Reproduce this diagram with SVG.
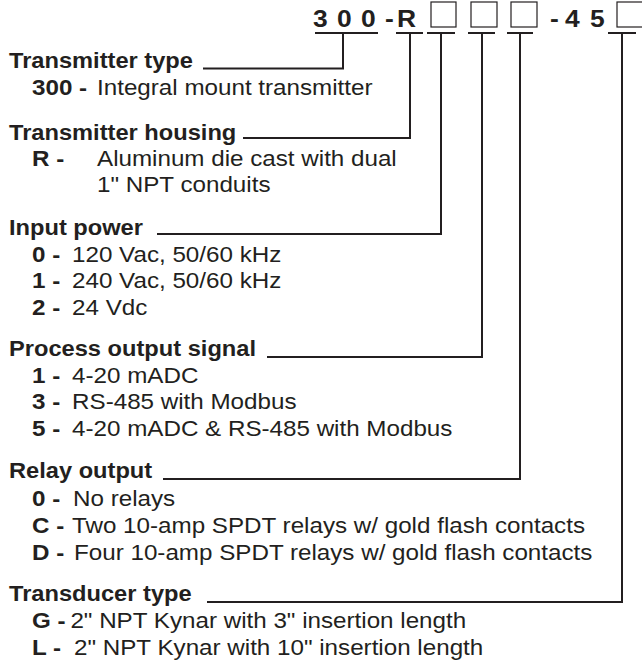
<svg xmlns="http://www.w3.org/2000/svg" width="642" height="661" viewBox="0 0 642 661">
<style>
text { font-family: "Liberation Sans", Arial, sans-serif; fill: #231f20; }
.h { font-size: 21.5px; font-weight: bold; }
.t { font-size: 22px; }
.b { font-weight: bold; }
.code { font-size: 24px; font-weight: bold; }
.ln { fill: none; stroke: #231f20; stroke-width: 2; }
.box { fill: none; stroke: #231f20; stroke-width: 1.2; }
</style>
<rect width="642" height="661" fill="#ffffff"/>
<g id="code">
  <g transform="scale(1.1 1)">
    <text class="code" x="284.5 306.4 328.2 350 360.9 500 513.6 536.4" y="27">300-R-45</text>
  </g>
  <rect class="box" x="431" y="2" width="25" height="25"/>
  <rect class="box" x="471" y="2" width="26" height="25"/>
  <rect class="box" x="511" y="2" width="26" height="25"/>
  <rect class="box" x="617" y="2" width="26" height="25"/>
</g>
<g id="connectors">
  <path class="ln" d="M315,33 H378 M343,33 V68.5 H203"/>
  <path class="ln" d="M396,33 H423 M410,33 V138 H243"/>
  <path class="ln" d="M427,33 H455 M441,33 V234 H157"/>
  <path class="ln" d="M468,33 H495 M482,33 V357 H267"/>
  <path class="ln" d="M507,33 H533 M520,33 V479 H163"/>
  <path class="ln" d="M608,33 H636 M622,33 V602 H207"/>
</g>
<g id="transmitter-type" transform="scale(1.1 1)">
  <text class="h" x="8.2" y="68">Transmitter type</text>
  <text class="t b" x="29.1" y="95">300 -</text>
  <text class="t" x="88.2" y="95">Integral mount transmitter</text>
</g>
<g id="transmitter-housing" transform="scale(1.1 1)">
  <text class="h" x="8.2" y="140">Transmitter housing</text>
  <text class="t b" x="29.1" y="166">R -</text>
  <text class="t" x="88.2" y="166">Aluminum die cast with dual</text>
  <text class="t" x="88.2" y="192">1" NPT conduits</text>
</g>
<g id="input-power" transform="scale(1.1 1)">
  <text class="h" x="8.2" y="235">Input power</text>
  <text class="t b" x="29.1" y="262">0 -</text>
  <text class="t" x="65.5" y="262">120 Vac, 50/60 kHz</text>
  <text class="t b" x="29.1" y="288">1 -</text>
  <text class="t" x="65.5" y="288">240 Vac, 50/60 kHz</text>
  <text class="t b" x="29.1" y="315">2 -</text>
  <text class="t" x="65.5" y="315">24 Vdc</text>
</g>
<g id="process-output-signal" transform="scale(1.1 1)">
  <text class="h" x="8.2" y="356">Process output signal</text>
  <text class="t b" x="29.1" y="383">1 -</text>
  <text class="t" x="65.5" y="383">4-20 mADC</text>
  <text class="t b" x="29.1" y="409">3 -</text>
  <text class="t" x="65.5" y="409">RS-485 with Modbus</text>
  <text class="t b" x="29.1" y="436">5 -</text>
  <text class="t" x="65.5" y="436">4-20 mADC &amp; RS-485 with Modbus</text>
</g>
<g id="relay-output" transform="scale(1.1 1)">
  <text class="h" x="8.2" y="478">Relay output</text>
  <text class="t b" x="29.1" y="506">0 -</text>
  <text class="t" x="66.4" y="506">No relays</text>
  <text class="t b" x="29.1" y="533">C -</text>
  <text class="t" x="65.5" y="533">Two 10-amp SPDT relays w/ gold flash contacts</text>
  <text class="t b" x="29.1" y="560">D -</text>
  <text class="t" x="67.3" y="560">Four 10-amp SPDT relays w/ gold flash contacts</text>
</g>
<g id="transducer-type" transform="scale(1.1 1)">
  <text class="h" x="8.2" y="601">Transducer type</text>
  <text class="t b" x="29.1" y="628">G -</text>
  <text class="t" x="64" y="628">2" NPT Kynar with 3" insertion length</text>
  <text class="t b" x="29.1" y="655">L -</text>
  <text class="t" x="67.3" y="655">2" NPT Kynar with 10" insertion length</text>
</g>
</svg>
